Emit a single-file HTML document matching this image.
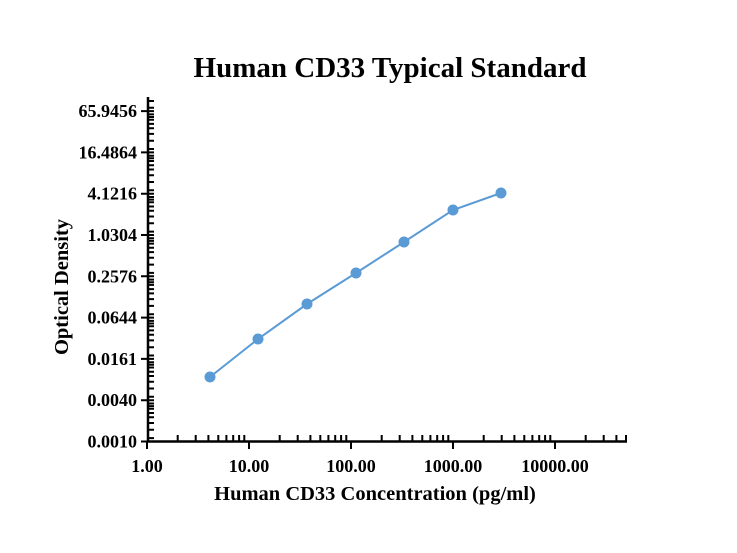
<!DOCTYPE html>
<html><head><meta charset="utf-8"><style>
html,body{margin:0;padding:0;background:#fff;}
svg{display:block;font-family:"Liberation Serif",serif;font-weight:bold;}
</style></head><body>
<svg width="737" height="553" viewBox="0 0 737 553" xmlns="http://www.w3.org/2000/svg">
<text x="390" y="77" font-size="29" text-anchor="middle">Human CD33 Typical Standard</text>
<g stroke="#000" stroke-width="2.5" fill="none">
<line x1="148" y1="97" x2="148" y2="442"/>
<line x1="147" y1="441.5" x2="627" y2="441.5"/>
</g>
<g stroke="#000" stroke-width="2" fill="none">
<path d="M147 441v8M249 441v8M351 441v8M453 441v8M555 441v8"/>
<path d="M177.7 441v-6M195.7 441v-6M208.4 441v-6M218.3 441v-6M226.4 441v-6M233.2 441v-6M239.1 441v-6M244.3 441v-6
M279.7 441v-6M297.7 441v-6M310.4 441v-6M320.3 441v-6M328.4 441v-6M335.2 441v-6M341.1 441v-6M346.3 441v-6
M381.7 441v-6M399.7 441v-6M412.4 441v-6M422.3 441v-6M430.4 441v-6M437.2 441v-6M443.1 441v-6M448.3 441v-6
M483.7 441v-6M501.7 441v-6M514.4 441v-6M524.3 441v-6M532.4 441v-6M539.2 441v-6M545.1 441v-6M550.3 441v-6
M585.7 441v-6M603.7 441v-6M616.4 441v-6M626 441v-6"/>
<path d="M141 441.5h13M141 400.2h13M141 358.9h13M141 317.6h13M141 276.3h13M141 235h13M141 193.7h13M141 152.4h13M141 111.1h13"/>
<path d="M148 438.1h6M148 429.8h6M148 423h6M148 417.3h6M148 413h6M148 408.8h6M148 406.1h6M148 403.5h6
M148 396.8h6M148 388.5h6M148 381.7h6M148 376h6M148 371.7h6M148 367.5h6M148 364.8h6M148 362.2h6
M148 355.5h6M148 347.2h6M148 340.4h6M148 334.7h6M148 330.4h6M148 326.2h6M148 323.5h6M148 320.9h6
M148 314.2h6M148 305.9h6M148 299.1h6M148 293.4h6M148 289.1h6M148 284.9h6M148 282.2h6M148 279.6h6
M148 272.9h6M148 264.6h6M148 257.8h6M148 252.1h6M148 247.8h6M148 243.6h6M148 240.9h6M148 238.3h6
M148 231.6h6M148 223.3h6M148 216.5h6M148 210.8h6M148 206.5h6M148 202.3h6M148 199.6h6M148 197h6
M148 190.3h6M148 182h6M148 175.2h6M148 169.5h6M148 165.2h6M148 161h6M148 158.3h6M148 155.7h6
M148 149h6M148 140.7h6M148 133.9h6M148 128.2h6M148 123.9h6M148 119.7h6M148 117h6M148 114.4h6
M148 107.7h6M148 101h6"/>
</g>
<g font-size="18" text-anchor="end">
<text x="137" y="447.5">0.0010</text>
<text x="137" y="406.2">0.0040</text>
<text x="137" y="364.9">0.0161</text>
<text x="137" y="323.6">0.0644</text>
<text x="137" y="282.3">0.2576</text>
<text x="137" y="241">1.0304</text>
<text x="137" y="199.7">4.1216</text>
<text x="137" y="158.4">16.4864</text>
<text x="137" y="117.1">65.9456</text>
</g>
<g font-size="18" text-anchor="middle">
<text x="147" y="472">1.00</text>
<text x="249" y="472">10.00</text>
<text x="351" y="472">100.00</text>
<text x="453" y="472">1000.00</text>
<text x="555" y="472">10000.00</text>
</g>
<text x="375" y="500" font-size="20.5" text-anchor="middle">Human CD33 Concentration (pg/ml)</text>
<text transform="translate(68,287) rotate(-90)" font-size="20.5" text-anchor="middle">Optical Density</text>
<polyline fill="none" stroke="#5b9bd5" stroke-width="2" points="210,377 258,339 307,304 356,273 404,242 453,210 501,193"/>
<g fill="#5b9bd5">
<circle cx="210" cy="377" r="5.5"/><circle cx="258" cy="339" r="5.5"/><circle cx="307" cy="304" r="5.5"/><circle cx="356" cy="273" r="5.5"/><circle cx="404" cy="242" r="5.5"/><circle cx="453" cy="210" r="5.5"/><circle cx="501" cy="193" r="5.5"/>
</g>
</svg>
</body></html>
